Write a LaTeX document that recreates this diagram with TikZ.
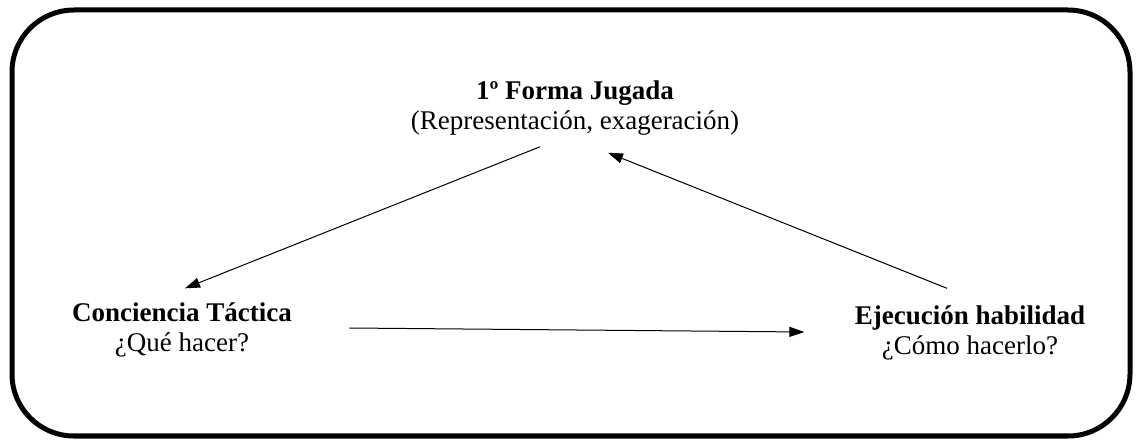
\documentclass[tikz,border=0pt]{standalone}
\usepackage{fontspec}
\setmainfont{Liberation Serif}
\usepackage{tikz}
\usetikzlibrary{arrows.meta}
\tikzset{etapa/.style={align=center,inner sep=0pt,font=\fontsize{27}{30}\selectfont}}

\begin{document}
\begin{tikzpicture}[x=1pt, y=-1pt, >={Triangle[length=15pt,width=10pt]}, line width=1pt]
    \useasboundingbox (0,0) rectangle (1138,443);
    \draw[line width=5pt, rounded corners=62pt] (12,10) rectangle (1130,436);
    \node[etapa](forma) at (575,108) {\textbf{1º Forma Jugada}\\(Representación, exageración)};
    \node[etapa](conciencia) at (182,330) {\textbf{Conciencia Táctica}\\¿Qué hacer?};
    \node[etapa](ejecucion) at (970,333) {\textbf{Ejecución habilidad}\\¿Cómo hacerlo?};
    \draw[->] ([xshift=-35pt,yshift=-11pt]forma.south) -- ([xshift=3pt,yshift=14pt]conciencia.north);
    \draw[->] ([xshift=57pt,yshift=2pt]conciencia.east) -- ([xshift=-50pt,yshift=1pt]ejecucion.west);
    \draw[->] ([xshift=-23pt,yshift=17pt]ejecucion.north) -- ([xshift=33pt,yshift=-17pt]forma.south);
\end{tikzpicture}
\end{document}
